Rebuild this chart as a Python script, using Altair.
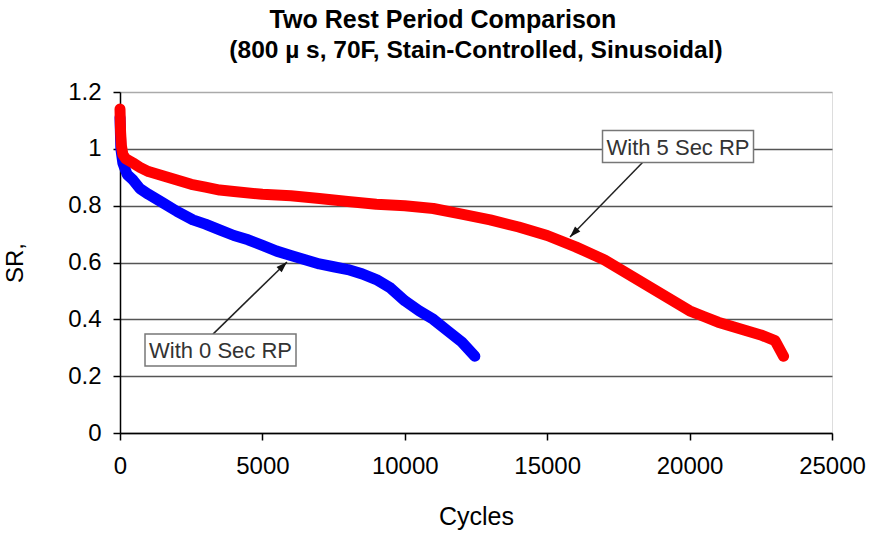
import math
import altair as alt
import pandas as pd

# ---- data ----
cycles_5s = [0, 20, 50, 100, 200, 460, 700, 1000, 1500, 2000, 2500, 3000, 3500, 4000, 5000,
             6000, 7000, 8000, 9000, 10000, 11000, 12000, 13000, 14000, 15000, 16000, 17000,
             18000, 19000, 20000, 20500, 21000, 22000, 22500, 23000, 23300]
sr_5s = [1.14, 1.06, 1.01, 0.98, 0.965, 0.95, 0.935, 0.92, 0.905, 0.89, 0.875, 0.865, 0.855,
         0.85, 0.84, 0.835, 0.825, 0.815, 0.805, 0.80, 0.79, 0.77, 0.75, 0.725, 0.695, 0.655,
         0.61, 0.55, 0.49, 0.43, 0.41, 0.39, 0.36, 0.345, 0.325, 0.27]

cycles_0s = [0, 30, 100, 250, 460, 700, 1000, 1500, 2000, 2560, 3000, 3500, 4000, 4500, 5000,
             5500, 6000, 6500, 7000, 7500, 8000, 8500, 9000, 9500, 10000, 10500, 11000, 11500,
             12000, 12460]
sr_0s = [1.11, 1.0, 0.95, 0.91, 0.89, 0.86, 0.84, 0.81, 0.78, 0.75, 0.735, 0.715, 0.695, 0.68,
         0.66, 0.64, 0.625, 0.61, 0.595, 0.585, 0.575, 0.56, 0.54, 0.51, 0.465, 0.43, 0.40,
         0.36, 0.32, 0.27]

series_names = ["With 5 Sec RP", "With 0 Sec RP"]
series_colors = ["#ff0000", "#0000ff"]

# annotations: label centre, arrow tail and arrow tip (data units)
ann_text = ["With 5 Sec RP", "With 0 Sec RP"]
ann_x = [19593, 3529]
ann_y = [1.008, 0.292]
arrow_x1 = [18364, 3265]
arrow_y1 = [0.954, 0.348]
arrow_x2 = [15800, 5864]
arrow_y2 = [0.690, 0.602]

x_ticks = [0, 5000, 10000, 15000, 20000, 25000]
y_ticks = [0, 0.2, 0.4, 0.6, 0.8, 1.0, 1.2]

title_main = ["Two Rest Period Comparison"]
title_sub = ["(800 \u00b5 s, 70F, Stain-Controlled, Sinusoidal)"]

# ---- layout ----
W, H = 712, 341
FONT = "Liberation Sans"

df = pd.concat([
    pd.DataFrame({"Cycles": cycles_5s, "SR": sr_5s, "series": series_names[0], "k": range(len(sr_5s))}),
    pd.DataFrame({"Cycles": cycles_0s, "SR": sr_0s, "series": series_names[1], "k": range(len(sr_0s))}),
])

sx = W / 25000.0
sy = H / 1.2
angles = []
for a, b, c, d in zip(arrow_x1, arrow_y1, arrow_x2, arrow_y2):
    dx = (c - a) * sx
    dy = -(d - b) * sy
    angles.append((math.degrees(math.atan2(dx, -dy)) + 360) % 360)

ann = pd.DataFrame({"text": ann_text, "x": ann_x, "y": ann_y,
                    "x1": arrow_x1, "y1": arrow_y1, "x2": arrow_x2, "y2": arrow_y2,
                    "angle": angles})

xscale = alt.Scale(domain=[0, 25000], nice=False, zero=False)
yscale = alt.Scale(domain=[0, 1.2], nice=False, zero=False)

xaxis = alt.Axis(values=x_ticks, format="d", title="Cycles", grid=False,
                 labelFontSize=24, labelPadding=14, labelFlush=False,
                 titleFontSize=25, titleFontWeight="normal", titlePadding=26,
                 domainColor="#000000", domainWidth=1.5, tickColor="#000000", tickWidth=1.5, tickSize=7)
yaxis = alt.Axis(values=y_ticks, format="~g", title="SR,",
                 labelFontSize=24, labelPadding=12, labelFlush=False,
                 titleFontSize=24, titleFontWeight="normal", titlePadding=40,
                 domainColor="#000000", domainWidth=1.5, tickColor="#000000", tickWidth=1.5, tickSize=7,
                 gridColor={"condition": {"test": "datum.value >= 1.2", "value": "#aaaaaa"}, "value": "#555555"},
                 gridWidth=1.3)

base = alt.Chart(df)
color = alt.Color("series:N", scale=alt.Scale(domain=series_names, range=series_colors), legend=None)

lines = base.mark_line(strokeWidth=11, strokeJoin="round", strokeCap="round").encode(
    x=alt.X("Cycles:Q", scale=xscale, axis=xaxis),
    y=alt.Y("SR:Q", scale=yscale, axis=yaxis),
    color=color,
    detail="series:N",
    order=alt.Order("k:Q"),
)
blue_line = lines.transform_filter(alt.datum.series == series_names[1])
red_line = lines.transform_filter(alt.datum.series == series_names[0])

abase = alt.Chart(ann)
arrows = abase.mark_rule(color="#222222", strokeWidth=1.5).encode(
    x=alt.X("x1:Q", scale=xscale), y=alt.Y("y1:Q", scale=yscale),
    x2="x2:Q", y2="y2:Q")
heads = abase.mark_point(
    shape="M0,0L0.6,1.8L-0.6,1.8Z", filled=True, color="#111111", opacity=1, size=150
).encode(x=alt.X("x2:Q", scale=xscale), y=alt.Y("y2:Q", scale=yscale), angle=alt.Angle("angle:Q", scale=None))
boxes = abase.mark_point(
    shape="M-7.55,-1.6L7.55,-1.6L7.55,1.6L-7.55,1.6Z", filled=True, fill="#ffffff",
    stroke="#777777", strokeWidth=1.5, opacity=1, size=400
).encode(x=alt.X("x:Q", scale=xscale), y=alt.Y("y:Q", scale=yscale))
labels = abase.mark_text(font=FONT, fontSize=22, color="#333333", baseline="middle", align="center", dy=1).encode(
    x=alt.X("x:Q", scale=xscale), y=alt.Y("y:Q", scale=yscale), text="text:N")

t_main = alt.Chart(pd.DataFrame({"t": title_main})).mark_text(
    font=FONT, fontSize=25, fontWeight="bold", color="#000000", align="center", baseline="alphabetic"
).encode(text="t:N", x=alt.value(323), y=alt.value(-64))
t_sub = alt.Chart(pd.DataFrame({"t": title_sub})).mark_text(
    font=FONT, fontSize=24.5, fontWeight="bold", color="#000000", align="center", baseline="alphabetic"
).encode(text="t:N", x=alt.value(356), y=alt.value(-34))

chart = alt.layer(blue_line, red_line, arrows, heads, boxes, labels, t_main, t_sub).properties(
    width=W, height=H,
    autosize=alt.AutoSizeParams(type="none"),
    padding={"left": 120, "top": 92, "right": 39, "bottom": 100},
).configure_view(stroke="#aaaaaa", strokeWidth=1.5).configure_axis(
    labelFont=FONT, titleFont=FONT, labelColor="#000000", titleColor="#000000"
).configure(background="#ffffff")

chart.save("out.html", embed_options={"renderer": "svg", "actions": False})
